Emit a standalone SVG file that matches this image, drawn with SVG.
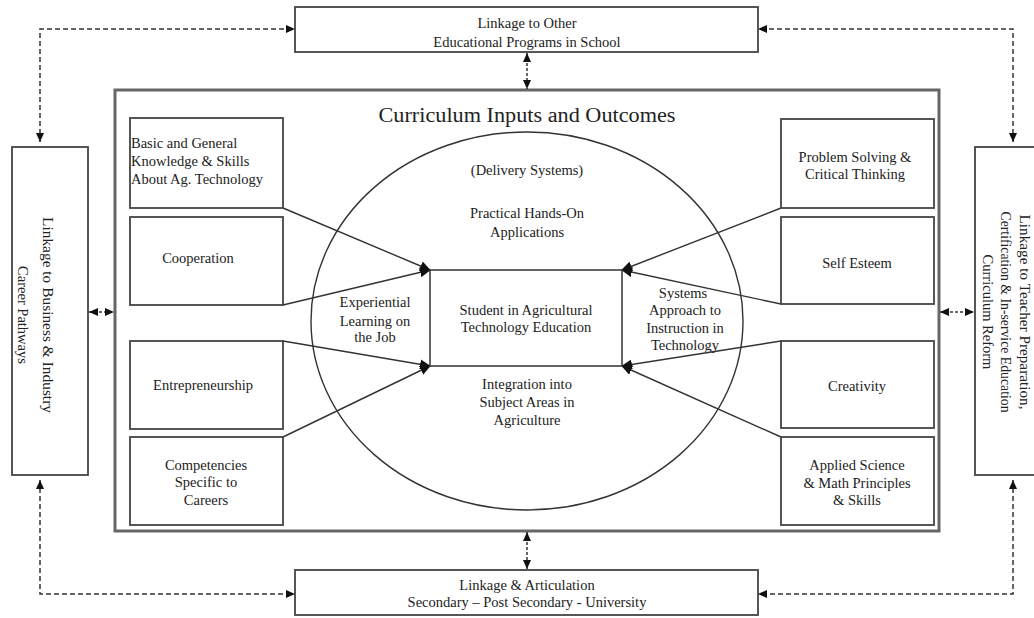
<svg xmlns="http://www.w3.org/2000/svg" width="1034" height="618" viewBox="0 0 1034 618">
<style>
  text { font-family: "Liberation Serif", "DejaVu Serif", serif; font-size: 14.5px; fill: #222; text-anchor: middle; }
  .box { fill: #fff; stroke: #444; stroke-width: 1.8; }
  .outer { fill: none; stroke: #666; stroke-width: 3; }
  .conv { stroke: #333; stroke-width: 1.4; fill: none; marker-end: url(#ah); }
  .dash { stroke: #333; stroke-width: 1.5; fill: none; stroke-dasharray: 5 3; marker-start: url(#sa); marker-end: url(#sa); }
  .dbl { stroke: #333; stroke-width: 1.5; fill: none; stroke-dasharray: 3 2; marker-start: url(#sa); marker-end: url(#sa); }
</style>
<defs>
  <marker id="ah" markerUnits="userSpaceOnUse" markerWidth="11" markerHeight="10" refX="10" refY="5" orient="auto">
    <path d="M0,0 L11,5 L0,10 z" fill="#111"/>
  </marker>
  <marker id="sa" markerUnits="userSpaceOnUse" markerWidth="9" markerHeight="8" refX="9" refY="4" orient="auto-start-reverse">
    <path d="M0,0 L9,4 L0,8 z" fill="#111"/>
  </marker>
</defs>

<g id="outer-frame">
  <rect class="outer" x="115" y="90" width="824" height="441"/>
  <text x="527" y="122" style="font-size:20px" textLength="297" lengthAdjust="spacingAndGlyphs">Curriculum Inputs and Outcomes</text>
</g>

<g id="delivery-systems">
  <ellipse cx="527" cy="321" rx="216" ry="189" fill="none" stroke="#333" stroke-width="1.4"/>
  <text x="527" y="175">(Delivery Systems)</text>
  <text x="527" y="218">Practical Hands-On</text>
  <text x="527" y="237">Applications</text>
  <text x="375" y="307">Experiential</text>
  <text x="375" y="326">Learning on</text>
  <text x="375" y="342">the Job</text>
  <text x="683" y="298">Systems</text>
  <text x="685" y="315">Approach to</text>
  <text x="685" y="333">Instruction in</text>
  <text x="685" y="350">Technology</text>
  <text x="527" y="389">Integration into</text>
  <text x="527" y="407">Subject Areas in</text>
  <text x="527" y="425">Agriculture</text>
</g>

<g id="connectors">
  <path class="conv" d="M283,208 L430,270"/>
  <path class="conv" d="M283,305 L430,270"/>
  <path class="conv" d="M283,341 L430,366"/>
  <path class="conv" d="M283,437 L430,366"/>
  <path class="conv" d="M781,208 L622,270"/>
  <path class="conv" d="M781,304 L622,270"/>
  <path class="conv" d="M781,341 L622,366"/>
  <path class="conv" d="M781,437 L622,366"/>
  <path class="dash" d="M40,142 L40,29 L295,29"/>
  <path class="dash" d="M1013,142 L1013,29 L758,29"/>
  <path class="dash" d="M40,480 L40,594 L295,594"/>
  <path class="dash" d="M1013,480 L1013,594 L758,594"/>
  <path class="dbl" d="M527,53 L527,89"/>
  <path class="dbl" d="M527,532 L527,569"/>
  <path class="dbl" d="M89,312 L114,312"/>
  <path class="dbl" d="M940,312 L974,312"/>
</g>

<g id="student">
  <rect x="430" y="270" width="192" height="96" fill="#fff" stroke="#333" stroke-width="1.5"/>
  <text x="526" y="315">Student in Agricultural</text>
  <text x="526" y="332">Technology Education</text>
</g>

<g id="basic-knowledge">
  <rect class="box" x="130" y="118" width="153" height="90"/>
  <text x="131" y="148" style="text-anchor:start">Basic and General</text>
  <text x="131" y="166" style="text-anchor:start">Knowledge &amp; Skills</text>
  <text x="131" y="184" style="text-anchor:start">About Ag. Technology</text>
</g>
<g id="cooperation">
  <rect class="box" x="130" y="217" width="153" height="88"/>
  <text x="198" y="263">Cooperation</text>
</g>
<g id="entrepreneurship">
  <rect class="box" x="130" y="341" width="153" height="88"/>
  <text x="203" y="390">Entrepreneurship</text>
</g>
<g id="competencies">
  <rect class="box" x="130" y="437" width="153" height="88"/>
  <text x="206" y="470">Competencies</text>
  <text x="206" y="487">Specific to</text>
  <text x="206" y="505">Careers</text>
</g>

<g id="problem-solving">
  <rect class="box" x="781" y="119" width="153" height="89"/>
  <text x="855" y="162">Problem Solving &amp;</text>
  <text x="855" y="179">Critical Thinking</text>
</g>
<g id="self-esteem">
  <rect class="box" x="781" y="217" width="153" height="87"/>
  <text x="857" y="268">Self Esteem</text>
</g>
<g id="creativity">
  <rect class="box" x="781" y="341" width="153" height="87"/>
  <text x="857" y="391">Creativity</text>
</g>
<g id="applied-science">
  <rect class="box" x="781" y="437" width="153" height="88"/>
  <text x="857" y="470">Applied Science</text>
  <text x="857" y="488">&amp; Math Principles</text>
  <text x="857" y="505">&amp; Skills</text>
</g>

<g id="linkage-other-programs">
  <rect class="box" x="295" y="7" width="463" height="45"/>
  <text x="527" y="28">Linkage to Other</text>
  <text x="527" y="47">Educational Programs in School</text>
</g>

<g id="linkage-articulation">
  <rect class="box" x="295" y="570" width="463" height="45"/>
  <text x="527" y="590">Linkage &amp; Articulation</text>
  <text x="527" y="607">Secondary – Post Secondary - University</text>
</g>

<g id="linkage-business">
  <rect class="box" x="12" y="147" width="76" height="328"/>
  <g transform="translate(48,315) rotate(90)">
    <text x="0" y="5" textLength="196" lengthAdjust="spacingAndGlyphs">Linkage to Business &amp; Industry</text>
    <text x="0" y="30">Career Pathways</text>
  </g>
</g>

<g id="linkage-teacher">
  <rect class="box" x="975" y="147" width="70" height="328"/>
  <g transform="translate(1025,312) rotate(90)">
    <text x="0" y="5" textLength="195" lengthAdjust="spacingAndGlyphs">Linkage to Teacher Preparation,</text>
    <text x="0" y="24" textLength="201" lengthAdjust="spacingAndGlyphs">Certification &amp; In-service Education</text>
    <text x="0" y="42">Curriculum Reform</text>
  </g>
</g>
</svg>
